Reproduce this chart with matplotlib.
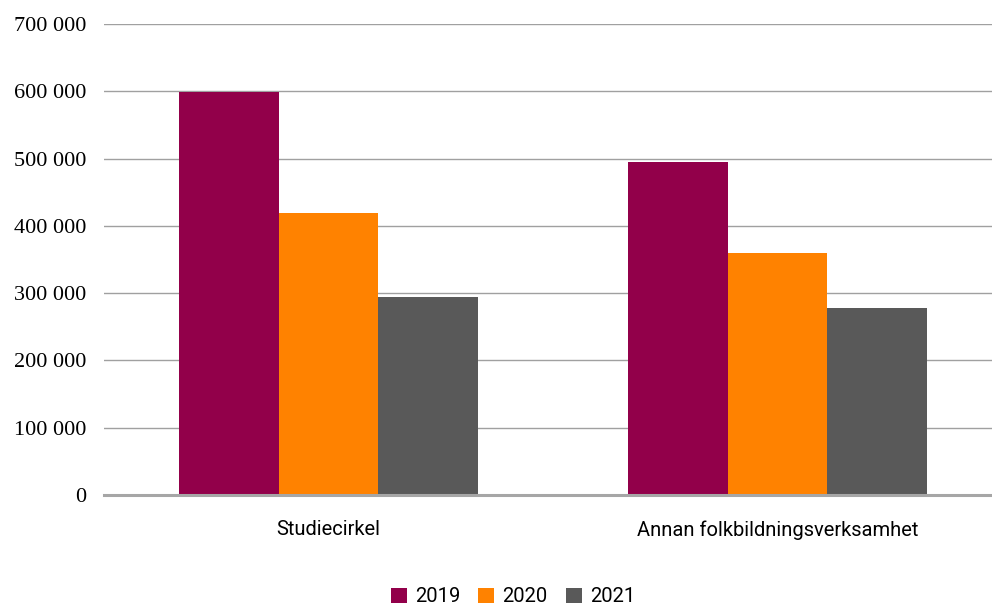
import numpy as np
import matplotlib.pyplot as plt
from matplotlib.ticker import FuncFormatter

# data
categories = ['Studiecirkel', 'Annan folkbildningsverksamhet']
years = ['2019', '2020', '2021']
values_2019 = [599000, 495000]
values_2020 = [419000, 360000]
values_2021 = [294000, 278000]
colors = ['#92004A', '#FF8200', '#595959']

fig = plt.figure(figsize=(9.92, 6.05), dpi=100)
ax = fig.add_axes([104 / 992, 110 / 605, 898 / 992, 471 / 605])

x = np.arange(len(categories))
w = 0.2227
for i, (vals, c, lab) in enumerate(zip([values_2019, values_2020, values_2021], colors, years)):
    ax.bar(x + (i - 1) * w, vals, width=w, color=c, label=lab, zorder=2)

ax.set_xlim(-0.5, 1.5)
ax.set_ylim(0, 700000)
ax.set_yticks(np.arange(0, 700001, 100000))
ax.yaxis.set_major_formatter(FuncFormatter(lambda v, p: f'{int(v):,}'.replace(',', ' ')))
ax.grid(axis='y', color='#A0A0A0', linewidth=1.0, zorder=0)
ax.set_axisbelow(True)

for s in ['top', 'right', 'left']:
    ax.spines[s].set_visible(False)
ax.spines['bottom'].set_color('#A6A6A6')
ax.spines['bottom'].set_linewidth(2.2)
ax.spines['bottom'].set_zorder(3)

ax.tick_params(axis='y', length=0, pad=13)
ax.tick_params(axis='x', length=0, pad=18)
for t in ax.get_yticklabels():
    t.set_fontfamily('Liberation Serif')
    t.set_fontsize(16)
ax.set_xticks(x)
ax.set_xticklabels(categories, fontfamily='Roboto', fontsize=14.5)

fig.legend(loc='center', bbox_to_anchor=(513 / 992, 1 - 597 / 605), ncol=3, frameon=False,
           prop={'family': 'Roboto', 'size': 14.5}, handlelength=0.8, handleheight=0.8,
           handletextpad=0.4, columnspacing=0.9)

fig.savefig('out.png', dpi=100)
